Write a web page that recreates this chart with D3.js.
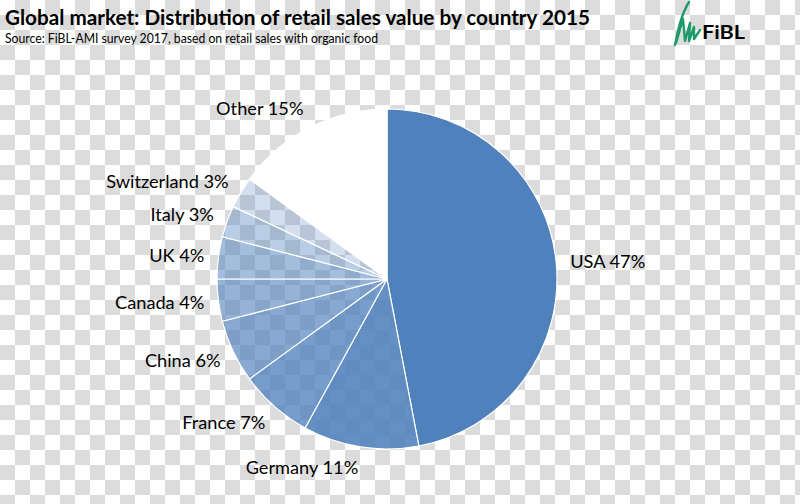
<!DOCTYPE html>
<html>
<head>
<meta charset="utf-8">
<script src="https://cdn.jsdelivr.net/npm/d3@7"></script>
<style>
  body { margin: 0; background: #fff; }
  svg { display: block; }
</style>
</head>
<body>
<div id="chart"></div>
<script>
const width = 800;
const height = 504;

// data
const countries = ['USA', 'Germany', 'France', 'China', 'Canada', 'UK', 'Italy', 'Switzerland', 'Other'];
const shares = [47, 11, 7, 6, 4, 4, 3, 3, 15];
const titleText = 'Global market: Distribution of retail sales value by country 2015';
const sourceText = 'Source: FiBL-AMI survey 2017, based on retail sales with organic food';

// styles
const blue = '#4f81bd';
const sliceOpacity = d3.scaleOrdinal()
    .domain(countries)
    .range([1, 0.88, 0.78, 0.68, 0.6, 0.52, 0.4, 0.25, 1]);
const sliceFill = c => c === 'Other' ? '#ffffff' : blue;

const cx = 387, cy = 279, radius = 170;
const font = 'Lato, "Open Sans", sans-serif';

const svg = d3.select('#chart')
    .append('svg')
    .attr('width', width)
    .attr('height', height)
    .attr('viewBox', `0,0,${width},${height}`);

// transparency checkerboard behind everything
const pat = svg.append('defs').append('pattern')
    .attr('id', 'checker')
    .attr('width', 30)
    .attr('height', 30)
    .attr('patternUnits', 'userSpaceOnUse');
pat.append('rect').attr('width', 30).attr('height', 30).attr('fill', '#ffffff');
pat.append('rect').attr('x', 15).attr('y', 0).attr('width', 15).attr('height', 15).attr('fill', '#dcdcdc');
pat.append('rect').attr('x', 0).attr('y', 15).attr('width', 15).attr('height', 15).attr('fill', '#dcdcdc');

svg.append('rect')
    .attr('width', width)
    .attr('height', height)
    .attr('fill', 'url(#checker)');

// title
svg.append('text')
    .attr('x', 5)
    .attr('y', 25)
    .attr('font-family', font)
    .attr('font-weight', 'bold')
    .attr('font-size', 21)
    .attr('textLength', 585)
    .attr('lengthAdjust', 'spacingAndGlyphs')
    .attr('fill', '#000')
    .text(titleText);

svg.append('text')
    .attr('x', 5)
    .attr('y', 43)
    .attr('font-family', font)
    .attr('font-size', 13.5)
    .attr('textLength', 373)
    .attr('lengthAdjust', 'spacingAndGlyphs')
    .attr('fill', '#000')
    .text(sourceText);

// logo
const logo = svg.append('g');
logo.append('path')
    .attr('d', 'M675,45 C678,30 681,15 689,2 M676,43 L683,19 L685,41 L690,23 L689,41 L694,27 L694,39 L700,30')
    .attr('fill', 'none')
    .attr('stroke', '#1e9a6c')
    .attr('stroke-width', 2.4)
    .attr('stroke-linejoin', 'round')
    .attr('stroke-linecap', 'round');
logo.append('text')
    .attr('x', 702)
    .attr('y', 39)
    .attr('font-family', font)
    .attr('font-weight', 'bold')
    .attr('font-size', 19)
    .attr('textLength', 43)
    .attr('lengthAdjust', 'spacingAndGlyphs')
    .attr('fill', '#000')
    .text('FiBL');

// pie
const pie = d3.pie()
    .sort(null)
    .value(d => d.value);

const arcs = pie(countries.map((c, i) => ({ name: c, value: shares[i] })));

const arc = d3.arc()
    .innerRadius(0)
    .outerRadius(radius);

const g = svg.append('g')
    .attr('transform', `translate(${[cx, cy]})`);

g.selectAll('path')
    .data(arcs)
    .join('path')
    .attr('d', arc)
    .attr('fill', d => sliceFill(d.data.name))
    .attr('fill-opacity', d => sliceOpacity(d.data.name))
    .attr('stroke', '#ffffff')
    .attr('stroke-width', 1.2)
    .attr('stroke-linejoin', 'round');

// labels, outside end
const labelSize = 18.2;
const gapX = 14, gapY = 21;
g.selectAll('text.label')
    .data(arcs)
    .join('text')
    .attr('class', 'label')
    .attr('font-family', font)
    .attr('font-size', labelSize)
    .attr('fill', '#000')
    .attr('text-anchor', d => Math.sin((d.startAngle + d.endAngle) / 2) >= 0 ? 'start' : 'end')
    .attr('x', d => {
        const a = (d.startAngle + d.endAngle) / 2;
        return Math.sin(a) * (radius + gapX);
    })
    .attr('y', d => {
        const a = (d.startAngle + d.endAngle) / 2;
        return -Math.cos(a) * (radius + gapY) + labelSize * 0.36;
    })
    .text(d => `${d.data.name} ${d.data.value}%`);
</script>
</body>
</html>
